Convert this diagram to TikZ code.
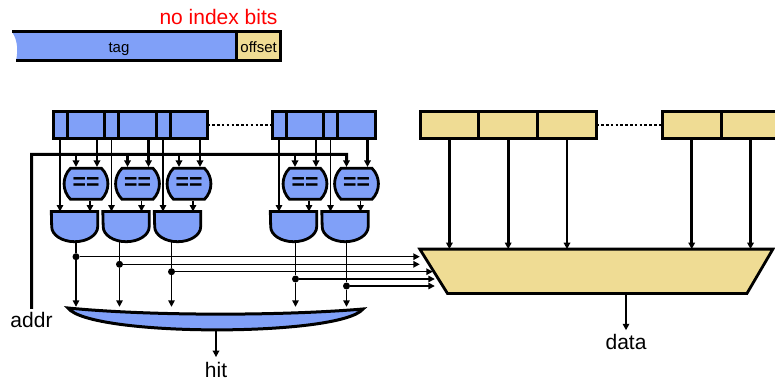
\documentclass[tikz,border=0pt]{standalone}
\usepackage{fontspec}
\setmainfont{Liberation Sans}
\usetikzlibrary{positioning,arrows.meta,shapes.misc}
\definecolor{tagblue}{RGB}{128,160,248}
\definecolor{datayellow}{RGB}{239,220,148}

\begin{document}
\begin{tikzpicture}[x=1pt,y=1pt,>={Triangle[length=6.5pt,width=6.5pt]},
    big/.style={font=\fontsize{21}{24}\selectfont},
    small/.style={font=\fontsize{15}{17}\selectfont},
    cell/.style={draw,line width=3pt,inner sep=0pt,outer sep=0pt,minimum height=27.5},
    vcell/.style={cell,fill=tagblue,minimum width=14},
    tcell/.style={cell,fill=tagblue,minimum width=37.5},
    dcell/.style={cell,fill=datayellow,minimum width=58.8},
    cmp/.style={rounded rectangle,rounded rectangle arc length=90,draw,line width=2.8pt,fill=tagblue,minimum width=36,minimum height=31,inner sep=0pt,font=\fontsize{23}{23}\selectfont\bfseries},
    gate/.style={minimum width=46,minimum height=30,inner sep=0pt},
    dot/.style={circle,fill,inner sep=0pt,minimum size=7},
    wide/.style={line width=2.6pt},
    wire/.style={line width=1.4pt}]

    \clip (0,0) rectangle (775,-382);

    \node[big,text=red] (noidx) at (218.5,-17) {no index bits};

    \fill[tagblue] (12,-32) .. controls (18,-40) and (18,-52) .. (16,-60.7) -- (236.7,-60.7) -- (236.7,-32) -- cycle;
    \fill[datayellow] (236.7,-32) rectangle (280.7,-60.7);
    \draw[line width=3pt] (12,-32) -- (280.7,-32) -- (280.7,-60.7) -- (16,-60.7);
    \draw[line width=3pt] (236.7,-32) -- (236.7,-60.7);
    \node[small,anchor=base] (tag) at (119,-52.5) {tag};
    \node[small,anchor=base] (offset) at (258.7,-52.5) {offset};

    \node[vcell] (v1) at (60,-125) {};
    \node[tcell,right=0pt of v1] (t1) {};
    \node[vcell,right=0pt of t1] (v2) {};
    \node[tcell,right=0pt of v2] (t2) {};
    \node[vcell,right=0pt of t2] (v3) {};
    \node[tcell,right=0pt of v3] (t3) {};
    \node[vcell] (v4) at (279,-125) {};
    \node[tcell,right=0pt of v4] (t4) {};
    \node[vcell,right=0pt of t4] (v5) {};
    \node[tcell,right=0pt of v5] (t5) {};

    \node[dcell] (d1) at (449.4,-125) {};
    \node[dcell,right=0pt of d1] (d2) {};
    \node[dcell,right=0pt of d2] (d3) {};
    \node[dcell] (d4) at (691.7,-125) {};
    \node[dcell,right=0pt of d4] (d5) {};

    \draw[line width=2.6pt,dash pattern=on 2.5pt off 2.3pt] (t3.east) -- (v4.west);
    \draw[line width=2.6pt,dash pattern=on 2.5pt off 2.3pt] (d3.east) -- (d4.west);

    \node[cmp] (c1) at (86,-183.8) {==};
    \node[cmp] (c2) at (137.5,-183.8) {==};
    \node[cmp] (c3) at (189,-183.8) {==};
    \node[cmp] (c4) at (305,-183.8) {==};
    \node[cmp] (c5) at (356.5,-183.8) {==};

    \node[gate] (a1) at (74.5,-226.7) {};
    \node[gate] (a2) at (126,-226.7) {};
    \node[gate] (a3) at (177.5,-226.7) {};
    \node[gate] (a4) at (293.5,-226.7) {};
    \node[gate] (a5) at (345,-226.7) {};

    \node[dot] (p1) at (76,-256.7) {};
    \node[dot] (p2) at (119.5,-264.3) {};
    \node[dot] (p3) at (171.5,-271.7) {};
    \node[dot] (p4) at (295.5,-279) {};
    \node[dot] (p5) at (346.5,-286) {};

    \node[minimum width=352.7,minimum height=44,inner sep=0pt] (mux) at (596.35,-271.3) {};
    \node[minimum width=295,minimum height=23,inner sep=0pt] (hitor) at (215.5,-318.5) {};

    \node[big] (addr) at (31.5,-320) {addr};
    \node[big,inner sep=1pt] (hit) at (216,-370) {hit};
    \node[big] (data) at (626,-341.5) {data};

    \coordinate (abus) at (31.7,-154.3);
    \coordinate (m1) at (mux.north west);
    \coordinate (m2) at (mux.north west);
    \coordinate (m3) at ([xshift=13]mux.north west);
    \coordinate (m4) at ([xshift=15]mux.north west);
    \coordinate (m5) at ([xshift=15]mux.north west);
    \foreach \i in {1,...,5}{
        \coordinate (ca\i) at ([xshift=-10]c\i.north);
        \coordinate (cb\i) at ([xshift=11]c\i.north);
        \coordinate (ai\i) at ([xshift=15.5]a\i.north);
    }

    \draw[line width=3pt,->] (addr.north) -- (abus) -| (ca5);
    \foreach \i in {1,...,4}
        \draw[wide,->] (abus -| ca\i) -- (ca\i);

    \foreach \i in {1,...,5}{
        \draw[wide,->] (t\i.south -| cb\i) -- (cb\i);
        \draw[wire,->] (v\i.south) -- (v\i.south |- a\i.north);
        \draw[wire,->] (c\i.south -| ai\i) -- (ai\i);
        \draw[wire] (p\i |- a\i.center) -- (p\i);
        \draw[wire,->] (p\i) -- (p\i |- hitor.north);
        \draw[wire,->] (p\i) -- (p\i -| m\i);
        \draw[wide,->] (d\i.south) -- (d\i.south |- mux.north);
    }

    \foreach \i in {1,...,5}
        \draw[line width=2.8pt,fill=tagblue] (a\i.north west) -- (a\i.north east) -- (a\i.east)
            arc[start angle=0,end angle=-180,x radius=23,y radius=15] -- cycle;

    \draw[line width=2.8pt,fill=datayellow] (mux.north west) -- (mux.north east)
        -- ([xshift=-26]mux.south east) -- ([xshift=27.7]mux.south west) -- cycle;
    \draw[line width=3pt,fill=tagblue] (68,-308) .. controls (150,-316) and (280,-316) .. (363,-309)
        .. controls (340,-337) and (90,-337) .. (68,-308) -- cycle;

    \draw[wide,->] (mux.south -| data.north) -- (data.north);
    \draw[wide,->,shorten >=4pt] (hitor.south -| hit.north) -- (hit.north);
\end{tikzpicture}
\end{document}
